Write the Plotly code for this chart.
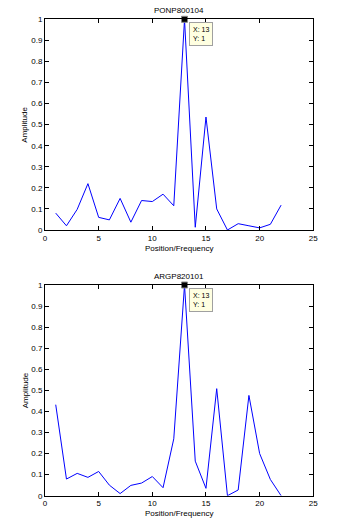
import plotly.graph_objects as go

positions = list(range(1, 23))
ponp800104 = [0.08, 0.02, 0.098, 0.22, 0.06, 0.048, 0.15, 0.037, 0.14, 0.135, 0.17, 0.115,
              1.0, 0.013, 0.536, 0.1, 0.0, 0.03, 0.02, 0.01, 0.027, 0.118]
argp820101 = [0.432, 0.079, 0.106, 0.087, 0.115, 0.05, 0.01, 0.049, 0.06, 0.091, 0.038, 0.27,
              1.0, 0.164, 0.035, 0.508, 0.0, 0.027, 0.476, 0.2, 0.077, 0.0]
titles = ["PONP800104", "ARGP820101"]
x_ticks = [0, 5, 10, 15, 20, 25]
y_ticks = [0, 0.1, 0.2, 0.3, 0.4, 0.5, 0.6, 0.7, 0.8, 0.9, 1]
tip_x, tip_y = 13, 1

W, H = 345, 524
fig = go.Figure()
font = dict(family="Liberation Sans, Arial, sans-serif", size=8, color="black")

# pixel boxes (top, bottom) of each plot
boxes = [(19.3, 230.0), (285.0, 495.7)]
x_left, x_right = 45.0, 313.3
xdom = (x_left / W, x_right / W)

for i, (series, title) in enumerate(zip([ponp800104, argp820101], titles)):
    n = "" if i == 0 else str(i + 1)
    top, bot = boxes[i]
    ydom = (1 - bot / H, 1 - top / H)
    fig.add_trace(go.Scatter(x=positions, y=series, mode="lines",
                             line=dict(color="#0000ff", width=1),
                             xaxis="x" + n, yaxis="y" + n, showlegend=False,
                             hoverinfo="skip"))
    fig.add_trace(go.Scatter(x=[tip_x], y=[tip_y], mode="markers",
                             marker=dict(symbol="square", size=6, color="black",
                                         line=dict(color="#888888", width=1)),
                             xaxis="x" + n, yaxis="y" + n, showlegend=False,
                             cliponaxis=False, hoverinfo="skip"))
    axis_common = dict(showgrid=False, zeroline=False, showline=True, linecolor="black",
                       linewidth=1, mirror="ticks", ticks="inside", ticklen=4,
                       tickcolor="black", tickfont=font, automargin=False)
    fig.update_layout(**{
        "xaxis" + n: dict(domain=list(xdom), range=[0, 25], tickvals=x_ticks,
                          anchor="y" + n, **axis_common),
        "yaxis" + n: dict(domain=list(ydom), range=[0, 1], tickvals=y_ticks,
                          ticktext=[("%g" % v) for v in y_ticks],
                          anchor="x" + n, **axis_common),
    })
    # title
    fig.add_annotation(x=0.5 * (xdom[0] + xdom[1]), y=1 - (top - 9) / H, xref="paper", yref="paper",
                       text=title, showarrow=False, yanchor="middle", font=font)
    # x-axis label
    fig.add_annotation(x=0.5 * (xdom[0] + xdom[1]), y=1 - (bot + 18) / H, xref="paper", yref="paper",
                       text="Position/Frequency", showarrow=False, yanchor="middle", font=font)
    # y-axis label
    fig.add_annotation(x=25 / W, y=1 - 0.5 * (top + bot) / H, xref="paper", yref="paper",
                       text="Amplitude", showarrow=False, textangle=-90,
                       xanchor="center", yanchor="middle", font=font)
    # data tip
    fig.add_annotation(x=tip_x, y=tip_y, xref="x" + n, yref="y" + n,
                       text="X: 13<br>Y: 1", showarrow=False, xanchor="left", yanchor="top",
                       xshift=4, yshift=-3, align="left",
                       font=dict(family="Liberation Sans, Arial, sans-serif", size=7, color="black"),
                       bgcolor="#ffffe1", bordercolor="#a0a0a0", borderwidth=1, borderpad=3)

fig.update_layout(width=W, height=H, margin=dict(l=0, r=0, t=0, b=0, autoexpand=False),
                  paper_bgcolor="white", plot_bgcolor="white", font=font)
fig.write_html("out.html", config={"displayModeBar": False},
               post_script="document.body.style.margin='0';document.body.style.overflow='hidden';")
